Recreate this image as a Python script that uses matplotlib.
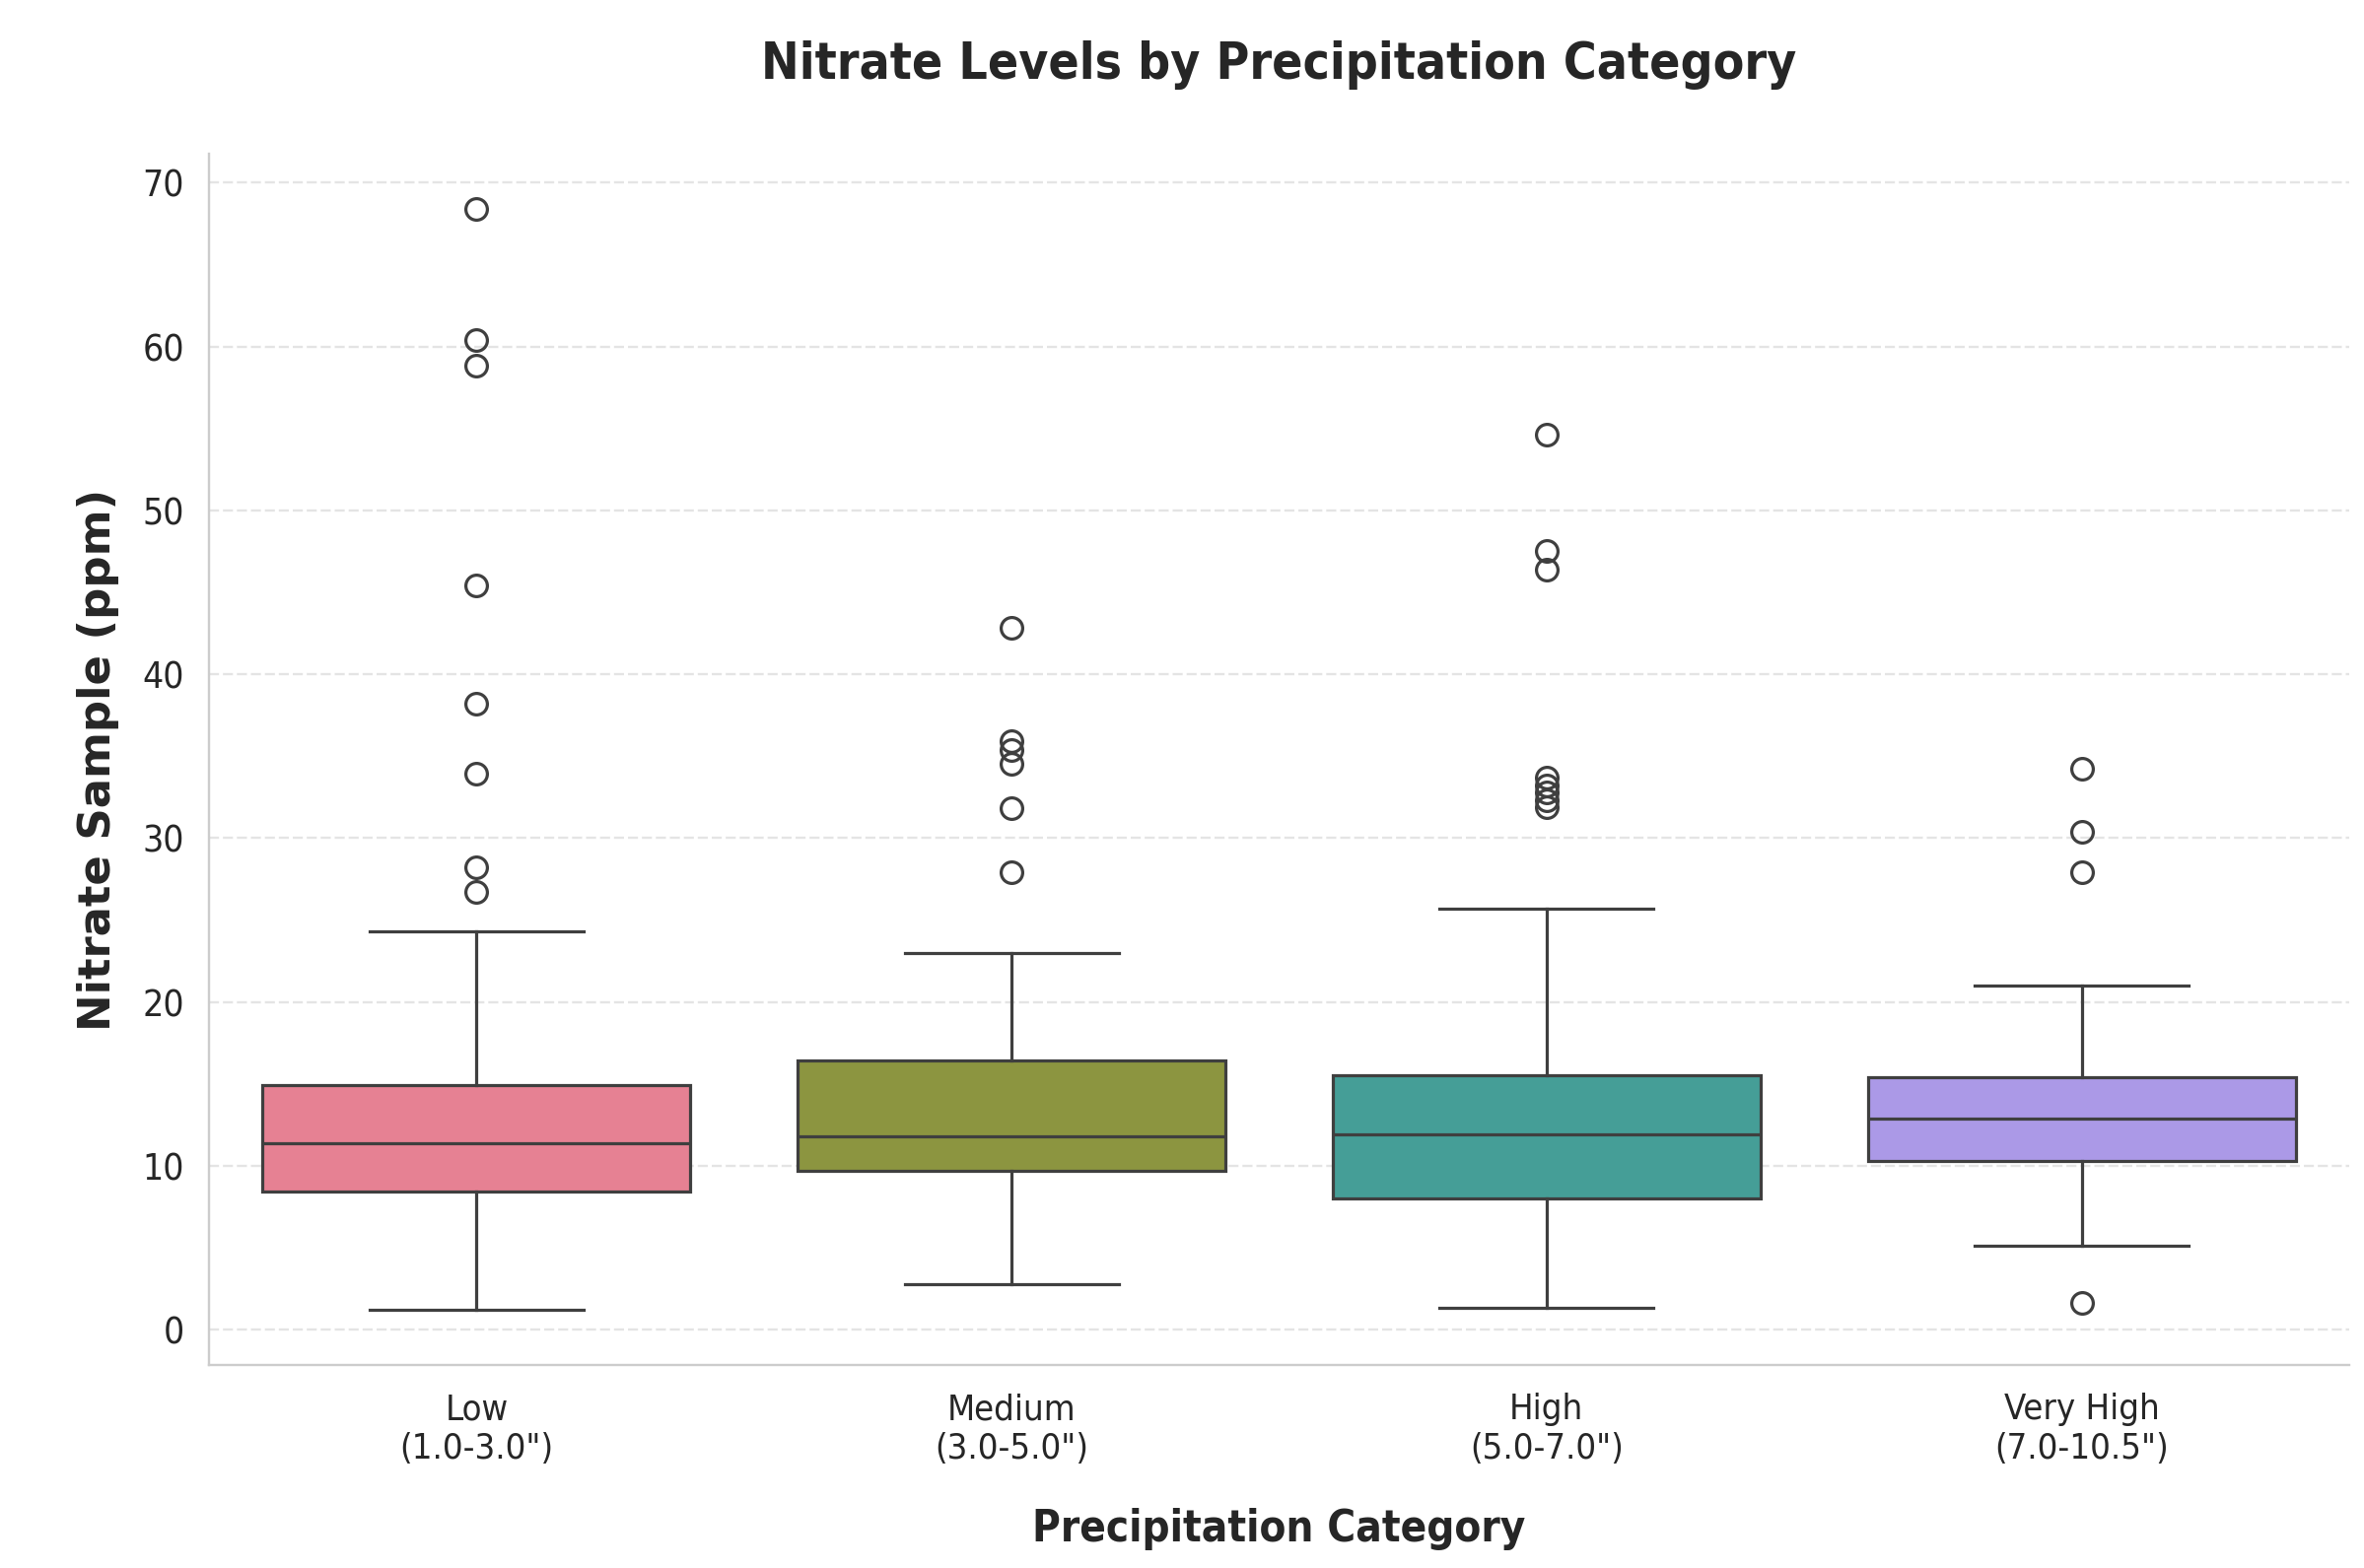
import os
import matplotlib
matplotlib.use("Agg")
import matplotlib.pyplot as plt
from matplotlib import font_manager as fm
import seaborn as sns

# ---------------- data ----------------
categories = ["Low", "Medium", "High", "Very High"]
ranges = ['(1.0-3.0")', '(3.0-5.0")', '(5.0-7.0")', '(7.0-10.5")']
q1 = [8.4, 9.7, 8.0, 10.3]
median = [11.4, 11.8, 11.9, 12.9]
q3 = [14.9, 16.4, 15.5, 15.4]
whisker_low = [1.2, 2.8, 1.3, 5.1]
whisker_high = [24.3, 23.0, 25.7, 21.0]
outliers_low = [68.4, 60.4, 58.8, 45.4, 38.2, 33.9, 28.2, 26.7]
outliers_medium = [42.8, 35.9, 35.4, 34.5, 31.8, 27.9]
outliers_high = [54.6, 47.5, 46.4, 33.7, 33.2, 32.8, 32.3, 31.9]
outliers_very_high = [34.2, 30.4, 27.9, 1.6]
outliers = [outliers_low, outliers_medium, outliers_high, outliers_very_high]
yticks = [0, 10, 20, 30, 40, 50, 60, 70]

# ---------------- fonts ----------------
def find_dejavu(bold, condensed):
    for f in fm.fontManager.ttflist:
        base = os.path.basename(f.fname)
        if not base.startswith("DejaVuSans"):
            continue
        if "Mono" in base or "Oblique" in base or "ExtraLight" in base:
            continue
        if ("Condensed" in base) != condensed:
            continue
        if ("Bold" in base) != bold:
            continue
        return f.fname
    return None

cond_reg = find_dejavu(False, True)
cond_bold = find_dejavu(True, True)
have_cond = cond_reg is not None and cond_bold is not None
factor = 0.96 if have_cond else 0.9

def fp(size, bold=False, condensed=True):
    if condensed and have_cond:
        return fm.FontProperties(fname=cond_bold if bold else cond_reg, size=size * factor)
    if condensed:
        return fm.FontProperties(family="DejaVu Sans", weight="bold" if bold else "normal",
                                 size=size * factor)
    return fm.FontProperties(family="DejaVu Sans", weight="bold" if bold else "normal", size=size)

TEXT = "#262626"
LINE = "#3f3f3f"
colors = sns.color_palette("husl", len(categories), desat=0.75)

# ---------------- figure ----------------
W, H, DPI = 2398, 1591, 200
fig = plt.figure(figsize=(W / DPI, H / DPI), dpi=DPI)
left, right, top, bottom = 212, 2383, 156, 1385
ax = fig.add_axes([left / W, 1 - bottom / H, (right - left) / W, (bottom - top) / H])

stats = []
for i, c in enumerate(categories):
    stats.append(dict(label=c, med=median[i], q1=q1[i], q3=q3[i],
                      whislo=whisker_low[i], whishi=whisker_high[i], fliers=outliers[i]))

lw = 1.15
bp = ax.bxp(stats, positions=list(range(len(categories))), widths=0.8, capwidths=0.4,
            patch_artist=True, showfliers=True, manage_ticks=False,
            boxprops=dict(edgecolor=LINE, linewidth=lw),
            medianprops=dict(color=LINE, linewidth=lw),
            whiskerprops=dict(color=LINE, linewidth=lw),
            capprops=dict(color=LINE, linewidth=lw),
            flierprops=dict(marker="o", markerfacecolor="none", markeredgecolor=LINE,
                            markersize=7.85, markeredgewidth=lw, linestyle="none"))
for patch, col in zip(bp["boxes"], colors):
    patch.set_facecolor(col)

ax.set_xlim(-0.5, len(categories) - 0.5)
ax.set_xticks(range(len(categories)))
ax.set_xticklabels([f"{c}\n{r}" for c, r in zip(categories, ranges)])
ax.set_yticks(yticks)

ax.set_axisbelow(True)
ax.yaxis.grid(True, linestyle=(0, (4.3, 1.7)), color="#e4e4e4", linewidth=0.85)
ax.xaxis.grid(False)

for s in ["top", "right"]:
    ax.spines[s].set_visible(False)
for s in ["left", "bottom"]:
    ax.spines[s].set_color("#cccccc")
    ax.spines[s].set_linewidth(0.85)

ax.tick_params(axis="both", length=0, colors=TEXT)
ax.tick_params(axis="x", pad=10.2)
ax.tick_params(axis="y", pad=9.0)
for t in ax.get_xticklabels():
    t.set_fontproperties(fp(13.6))
    t.set_color(TEXT)
for t in ax.get_yticklabels():
    t.set_fontproperties(fp(13.9))
    t.set_color(TEXT)

ax.set_title("Nitrate Levels by Precipitation Category", fontproperties=fp(19.3, bold=True),
             color=TEXT, pad=27.5)
ax.set_xlabel("Precipitation Category", fontproperties=fp(16.4, bold=True), color=TEXT)
ax.xaxis.set_label_coords(0.5, -0.118)
ax.set_ylabel("Nitrate Sample (ppm)", fontproperties=fp(16.2, bold=True, condensed=False),
              color=TEXT)
ax.yaxis.set_label_coords(-0.0419, 0.5)

fig.savefig("out.png", dpi=DPI, facecolor="white")
